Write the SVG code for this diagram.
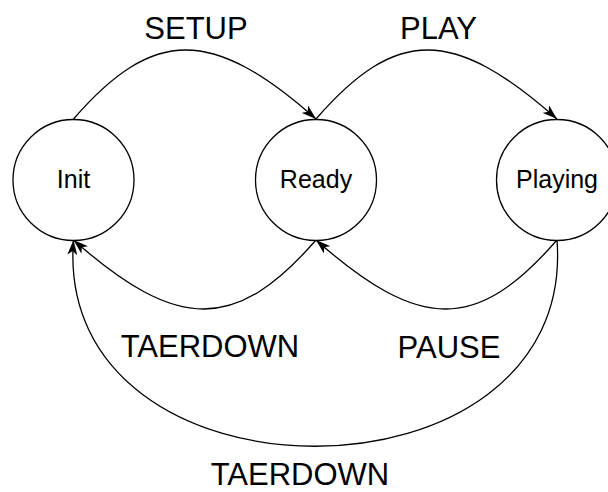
<svg xmlns="http://www.w3.org/2000/svg" width="608" height="492" viewBox="0 0 608 492">
<style>
.node{fill:#fff;stroke:#000;stroke-width:1.3}
.edge{fill:none;stroke:#000;stroke-width:1.3;marker-end:url(#arr)}
.nt{font-family:"Liberation Sans",Arial,sans-serif;font-size:25px;fill:#000;text-anchor:middle}
.lt{font-family:"Liberation Sans",Arial,sans-serif;font-size:31px;fill:#000;text-anchor:middle}
</style>
<defs>
<marker id="arr" markerUnits="userSpaceOnUse" viewBox="0 0 15 10" refX="15" refY="5" markerWidth="15" markerHeight="10" orient="auto">
<path d="M0,0 L15,5 L0,10 L4,5 z" fill="#000"/>
</marker>
</defs>
<rect width="608" height="492" fill="#fff"/>
<g id="connectors">
<path id="e-setup" class="edge" d="M73.5,119 C153.5,27 212,27 316,119"/>
<path id="e-play" class="edge" d="M316,119 C396,27 453,27 557,119"/>
<path id="e-teardown1" class="edge" d="M316,240 C236,332 177.5,332 73.5,240"/>
<path id="e-pause" class="edge" d="M557,240 C477,332 420,332 316,240"/>
<path id="e-teardown2" class="edge" d="M557,240 C578,515 52,515 73.5,240"/>
</g>
<g id="node-init">
<circle class="node" cx="73.5" cy="180" r="60.5"/>
<text class="nt" x="73.5" y="188">Init</text>
</g>
<g id="node-ready">
<circle class="node" cx="316" cy="180" r="60.5"/>
<text class="nt" x="316" y="188">Ready</text>
</g>
<g id="node-playing">
<circle class="node" cx="557" cy="180" r="60.5"/>
<text class="nt" x="557" y="188">Playing</text>
</g>
<g id="labels">
<text class="lt" x="196" y="39">SETUP</text>
<text class="lt" x="438.5" y="39">PLAY</text>
<text class="lt" x="210" y="357">TAERDOWN</text>
<text class="lt" x="449" y="357.5">PAUSE</text>
<text class="lt" x="300" y="485">TAERDOWN</text>
</g>
</svg>
